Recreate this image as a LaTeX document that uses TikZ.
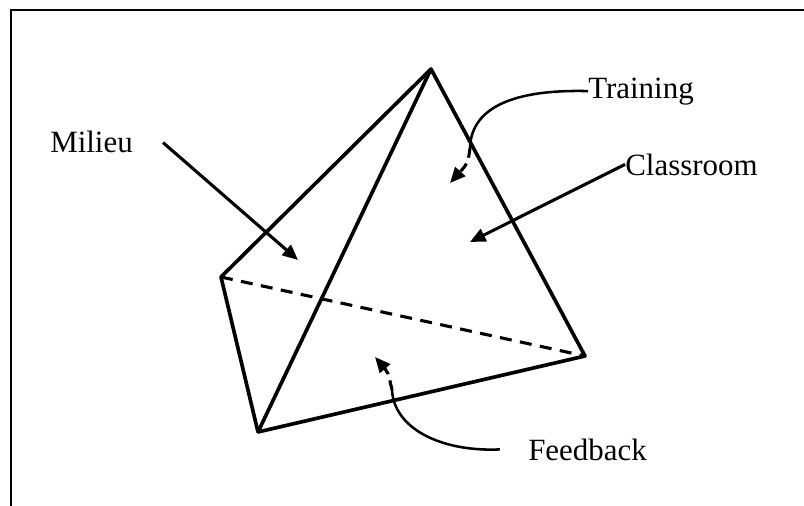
\documentclass[tikz,border=0pt]{standalone}
\usepackage{fontspec}
\setmainfont{Liberation Serif}
\usetikzlibrary{arrows.meta}
\begin{document}
\begin{tikzpicture}[x=0.025cm,y=-0.025cm,
  edge/.style={line width=2.6pt, line join=round},
  hidden/.style={line width=2.2pt, dash pattern=on 8.5pt off 6pt},
  pointer/.style={line width=2.2pt, -{Triangle[length=11pt,width=9.5pt]}},
  leader/.style={line width=1.8pt},
  label/.style={inner sep=0pt, anchor=base west, font=\fontsize{22}{26}\selectfont}]
\useasboundingbox (0,0) rectangle (804,506);

% frame
\draw[line width=2pt] (11,520) -- (11,10) -- (820,10);

% corners of the solid
\coordinate (apex) at (431,69);
\coordinate (left) at (221,277);
\coordinate (bottom) at (258,432);
\coordinate (right) at (585,356);

\draw[edge] (left) -- (apex) -- (right) -- (bottom) -- cycle;
\draw[edge] (apex) -- (bottom);
\draw[hidden] (left) -- (right);

% labels
\node[label] (milieu) at (50,152) {Milieu};
\node[label] (training) at (588,98) {Training};
\node[label] (classroom) at (625,175) {Classroom};
\node[label] (feedback) at (528,460) {Feedback};

% faces the labels point at
\coordinate (mface) at (298,260);
\coordinate (tface) at (450,183);
\coordinate (cface) at (470,242);
\coordinate (fface) at (375,357);
\coordinate (tbend) at (470,148);
\coordinate (fbend) at (392,390);

\draw[pointer] ([shift={(30,-10)}]milieu.south east) -- (mface);
\draw[pointer] (classroom.west) -- (cface);

\draw[leader] (training.west) .. controls (505,89) and (471,112) .. (tbend);
\draw[pointer, dash pattern=on 7pt off 4.5pt] (tbend) .. controls (468,163) .. (tface);

\draw[leader] ([xshift=-20]feedback.west) .. controls (440,452) and (394,428) .. (fbend);
\draw[pointer, dash pattern=on 7pt off 4.5pt] (fbend) .. controls (388,372) .. (fface);
\end{tikzpicture}
\end{document}
